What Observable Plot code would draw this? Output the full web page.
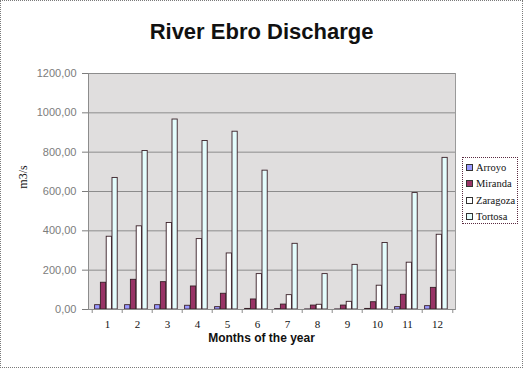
<!DOCTYPE html>
<html><head><meta charset="utf-8">
<script src="https://cdn.jsdelivr.net/npm/d3@7"></script>
<script src="https://cdn.jsdelivr.net/npm/@observablehq/plot@0.6"></script>
<style>
body{margin:0;background:#fff;}
#wrap{position:relative;width:523px;height:368px;overflow:hidden;font-family:"Liberation Sans",Arial,sans-serif;background:#fff;}
#border{position:absolute;left:0;top:0;width:521px;height:366px;border:1px dotted #7a7a7a;}
#title{position:absolute;left:0;top:20px;width:523px;text-align:center;font-weight:bold;font-size:22px;line-height:24px;color:#111;}
#xtitle{position:absolute;left:0;top:331px;width:523px;text-align:center;font-weight:bold;font-size:12px;line-height:14px;color:#111;}
#ytitle{position:absolute;left:23px;top:177px;transform:translate(-50%,-50%) rotate(-90deg);font-family:"Liberation Serif",serif;font-size:12px;color:#111;white-space:nowrap;}
#chart{position:absolute;left:0;top:0;}
#legend{position:absolute;left:462px;top:157px;width:56px;height:67px;border:1px dotted #5a2a40;font-family:"Liberation Serif",serif;font-size:10.5px;color:#111;box-sizing:border-box;padding-top:1.5px;background:#fff;}
.item{display:flex;align-items:center;height:16.3px;padding-left:3px;white-space:nowrap;}
.sw{width:5px;height:5px;border:1px solid #333;margin-right:3px;flex:none;}
</style>
</head><body>
<div id="wrap">
  <div id="chart"></div>
  <div id="title">River Ebro Discharge</div>
  <div id="ytitle">m3/s</div>
  <div id="xtitle">Months of the year</div>
  <div id="legend"></div>
  <div id="border"></div>
</div>
<script>
const months = ["1","2","3","4","5","6","7","8","9","10","11","12"];
const series = ["Arroyo","Miranda","Zaragoza","Tortosa"];
const arroyo   = [22, 22, 22, 19, 12, 3, 2, 0.5, 0.5, 3, 12, 17];
const miranda  = [136, 151, 139, 117, 80, 51, 25, 20, 20, 37, 75, 110];
const zaragoza = [370, 423, 440, 358, 285, 180, 73, 24, 39, 121, 238, 380];
const tortosa  = [669, 806, 966, 857, 904, 706, 334, 180, 227, 338, 592, 771];
const yTicks = [0, 200, 400, 600, 800, 1000, 1200];
const colors = ["#9999ff", "#993366", "#ffffff", "#e4fdfd"];

const data = months.map((m, i) => ({month: m, Arroyo: arroyo[i], Miranda: miranda[i], Zaragoza: zaragoza[i], Tortosa: tortosa[i]}));

const W = 523, H = 368, mL = 88, mR = 68, mT = 73, mB = 59;
const bw = (W - mL - mR) / months.length;
const barW = 5.8, start = 2.6;

const fmt = d => d3.format(".2f")(d).replace(".", ",");

const plot = Plot.plot({
  width: W, height: H,
  marginLeft: mL, marginRight: mR, marginTop: mT, marginBottom: mB,
  style: {background: "transparent", fontFamily: "Liberation Sans, Arial, sans-serif"},
  x: {type: "band", domain: months, padding: 0},
  y: {domain: [0, 1200]},
  marks: [
    Plot.frame({fill: "#e0dede", stroke: "#9a9a9a"}),
    Plot.gridY({ticks: yTicks, stroke: "#8c8c8c", strokeOpacity: 1, strokeWidth: 1}),
    ...series.map((s, i) => Plot.barY(data, {
      x: "month", y: s, fill: colors[i], stroke: "#3a2028", strokeWidth: 0.9,
      insetLeft: start + i * barW, insetRight: bw - start - (i + 1) * barW
    })),
    Plot.ruleY([0], {stroke: "#8c8c8c"}),
    Plot.axisY({ticks: yTicks, tickFormat: fmt, tickSize: 6, tickPadding: 6, fontSize: 11, color: "#7c7c7c", label: null}),
    Plot.frame({anchor: "left", stroke: "#8c8c8c"}),
    Plot.axisX({tickSize: 0, tickPadding: 11, fontFamily: "Liberation Serif, serif", fontSize: 11, color: "#111", label: null}),
    Plot.axisX({ticks: months, tickSize: 4, dx: -bw / 2, text: null, label: null, stroke: "#8c8c8c"}),
    Plot.axisX({ticks: ["12"], tickSize: 4, dx: bw / 2, text: null, label: null, stroke: "#8c8c8c"})
  ]
});
document.getElementById("chart").appendChild(plot);

const legend = document.getElementById("legend");
series.forEach((s, i) => {
  const it = document.createElement("div");
  it.className = "item";
  const sw = document.createElement("span");
  sw.className = "sw";
  sw.style.background = colors[i];
  const t = document.createElement("span");
  t.textContent = s;
  it.appendChild(sw); it.appendChild(t);
  legend.appendChild(it);
});
</script>
</body></html>
